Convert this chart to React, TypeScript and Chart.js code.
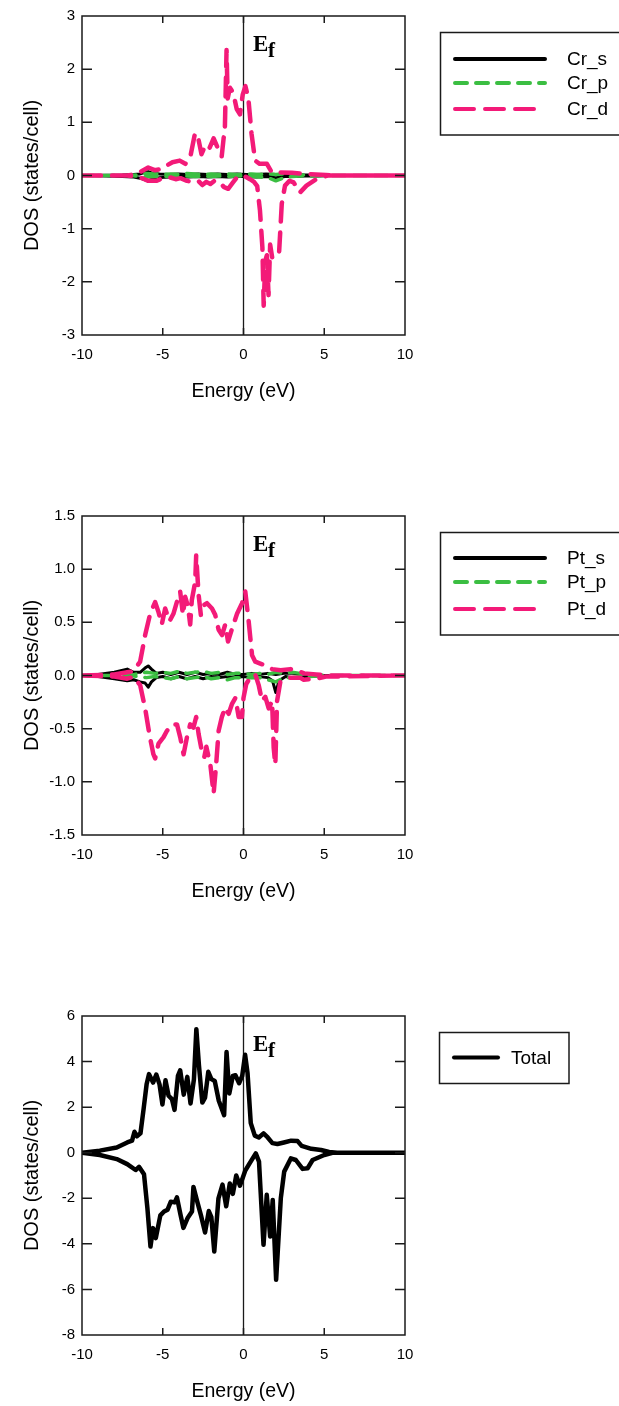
import React, { useEffect, useRef } from "react";
import { Chart, registerables } from "chart.js";

Chart.register(...registerables);
Chart.defaults.font.family = '"Liberation Sans", Arial, sans-serif';
Chart.defaults.color = "#000";

const W = 619;
const H = 420;
const PLOT_LEFT = 82;
const PLOT_RIGHT = 405;
const PLOT_TOP = 15;
const PLOT_BOTTOM = 335;

const PINK = "#F31A78";
const GREEN = "#3BBE42";
const BLACK = "#000000";

// ---- axis ticks ----
const energyTicks = [-10, -5, 0, 5, 10];
const crTicks = [-3, -2, -1, 0, 1, 2, 3];
const ptTicks = [-1.5, -1, -0.5, 0, 0.5, 1, 1.5];
const totTicks = [-8, -6, -4, -2, 0, 2, 4, 6];

// ---- Panel 1: Cr ----
const crSUpE = [-10, -8.5, -7.5, -6.8, -6.4, -6.1, -5.9, -5.6, -5.2, -4.6, -4.0, -3.4, -2.8, -2.2, -1.6, -1.0, -0.4, 0.2, 0.8, 1.4, 2.0, 2.6, 3.2, 3.8, 4.6, 5.4, 10];
const crSUpV = [0, 0.005, 0.01, 0.02, 0.03, 0.06, 0.07, 0.04, 0.03, 0.02, 0.03, 0.02, 0.03, 0.02, 0.03, 0.02, 0.03, 0.02, 0.02, 0.03, 0.02, 0.02, 0.02, 0.01, 0.01, 0, 0];
const crSDnE = [-10, -8.5, -7.5, -6.8, -6.4, -6.1, -5.9, -5.6, -5.2, -4.6, -4.0, -3.4, -2.8, -2.2, -1.6, -1.0, -0.4, 0.2, 0.8, 1.4, 2.0, 2.6, 3.2, 3.8, 4.6, 5.4, 10];
const crSDnV = [0, -0.01, -0.02, -0.03, -0.05, -0.08, -0.1, -0.06, -0.04, -0.03, -0.02, -0.03, -0.02, -0.03, -0.02, -0.03, -0.02, -0.02, -0.03, -0.02, -0.04, -0.02, -0.02, -0.01, -0.01, 0, 0];

const crPUpE = [-10, -7, -6.4, -6.0, -5.5, -5.0, -4.5, -4.0, -3.5, -3.0, -2.5, -2.0, -1.5, -1.0, -0.5, 0, 0.5, 1.0, 1.5, 2.0, 2.5, 3.0, 3.5, 4.0, 5.0, 10];
const crPUpV = [0, 0, 0.02, 0.04, 0.03, 0.02, 0.03, 0.02, 0.04, 0.03, 0.02, 0.03, 0.02, 0.03, 0.02, 0.02, 0.03, 0.02, 0.03, 0.02, 0.03, 0.02, 0.01, 0.01, 0, 0];
const crPDnE = [-10, -7, -6.4, -6.0, -5.5, -5.0, -4.5, -4.0, -3.5, -3.0, -2.5, -2.0, -1.5, -1.0, -0.5, 0, 0.5, 1.0, 1.5, 2.0, 2.5, 3.0, 3.5, 4.0, 5.0, 10];
const crPDnV = [0, 0, -0.02, -0.03, -0.02, -0.02, -0.01, -0.02, -0.01, -0.02, -0.01, -0.02, -0.01, -0.02, -0.01, -0.01, -0.02, -0.03, -0.04, -0.1, -0.04, -0.02, -0.01, -0.01, 0, 0];

const crDUpE = [-10, -7.2, -6.6, -6.2, -5.9, -5.5, -5.1, -4.8, -4.4, -3.95, -3.6, -3.3, -3.0, -2.8, -2.6, -2.35, -2.1, -1.85, -1.6, -1.35, -1.15, -1.05, -0.98, -0.84, -0.63, -0.42, -0.22, -0.05, 0.12, 0.3, 0.5, 0.72, 1.0, 1.45, 1.75, 2.1, 3.0, 3.9, 5.1, 5.6, 10];
const crDUpV = [0, 0, 0.03, 0.1, 0.15, 0.1, 0.12, 0.18, 0.25, 0.28, 0.22, 0.34, 0.8, 0.7, 0.4, 0.58, 0.52, 0.7, 0.52, 0.36, 0.93, 2.36, 1.45, 1.65, 1.55, 1.25, 1.15, 1.52, 1.68, 1.45, 0.78, 0.28, 0.22, 0.22, 0.06, 0.06, 0.05, 0.03, 0.01, 0, 0];
const crDDnE = [-10, -7.2, -6.6, -6.2, -5.9, -5.4, -5.0, -4.6, -4.2, -3.9, -3.5, -3.2, -2.8, -2.55, -2.3, -2.05, -1.8, -1.5, -1.2, -0.95, -0.65, -0.4, 0, 0.4, 0.65, 0.85, 1.02, 1.17, 1.25, 1.35, 1.45, 1.55, 1.65, 1.78, 1.95, 2.2, 2.37, 2.57, 2.85, 3.1, 3.5, 3.9, 4.5, 5.2, 10];
const crDDnV = [0, 0, -0.02, -0.06, -0.1, -0.1, -0.05, -0.03, -0.07, -0.05, -0.1, -0.12, -0.1, -0.18, -0.12, -0.16, -0.1, -0.12, -0.22, -0.25, -0.13, -0.03, 0, -0.07, -0.12, -0.2, -0.66, -1.35, -2.45, -1.6, -1.5, -2.25, -1.3, -1.55, -1.5, -1.47, -0.53, -0.19, -0.1, -0.13, -0.32, -0.19, -0.07, 0, 0];

// ---- Panel 2: Pt ----
const ptSUpE = [-10, -9, -8, -7.2, -6.8, -6.4, -6.1, -5.9, -5.7, -5.4, -5.0, -4.5, -4.0, -3.5, -3.0, -2.5, -2.0, -1.5, -1.0, -0.5, 0, 0.5, 1.0, 1.5, 2.0, 2.5, 3.0, 4.0, 5.0, 10];
const ptSUpV = [0, 0.01, 0.03, 0.06, 0.03, 0.03, 0.07, 0.09, 0.06, 0.02, 0.03, 0.01, 0.03, 0.01, 0.03, 0.01, 0.02, 0.01, 0.03, 0.01, 0.01, 0.02, 0.01, 0.02, 0.01, 0.02, 0.02, 0.01, 0, 0];
const ptSDnE = [-10, -9, -8, -7.2, -6.8, -6.4, -6.1, -5.9, -5.7, -5.4, -5.0, -4.5, -4.0, -3.5, -3.0, -2.5, -2.0, -1.5, -1.0, -0.5, 0, 0.5, 1.0, 1.5, 1.8, 2.0, 2.2, 2.6, 3.0, 4.0, 5.0, 10];
const ptSDnV = [0, -0.01, -0.03, -0.05, -0.04, -0.06, -0.07, -0.11, -0.06, -0.02, -0.01, -0.03, -0.01, -0.03, -0.01, -0.03, -0.01, -0.02, -0.01, -0.02, -0.01, -0.02, -0.01, -0.02, -0.05, -0.16, -0.05, -0.01, -0.02, -0.01, 0, 0];

const ptPUpE = [-10, -7, -6.5, -6.0, -5.5, -5.0, -4.5, -4.0, -3.5, -3.0, -2.5, -2.0, -1.5, -1.0, -0.5, 0, 0.5, 1.0, 1.5, 2.0, 2.5, 3.0, 3.5, 4.0, 5.0, 10];
const ptPUpV = [0, 0, 0.02, 0.03, 0.02, 0.03, 0.02, 0.04, 0.02, 0.03, 0.04, 0.02, 0.03, 0.01, 0.02, 0.02, 0.01, 0.02, 0.01, 0.03, 0.02, 0.03, 0.02, 0.01, 0, 0];
const ptPDnE = [-10, -7, -6.5, -6.0, -5.5, -5.0, -4.5, -4.0, -3.5, -3.0, -2.5, -2.0, -1.5, -1.0, -0.5, 0, 0.5, 1.0, 1.5, 2.0, 2.5, 3.0, 3.5, 4.0, 5.0, 10];
const ptPDnV = [0, 0, -0.01, -0.02, -0.01, -0.02, -0.03, -0.01, -0.03, -0.02, -0.01, -0.03, -0.02, -0.04, -0.02, -0.02, -0.02, -0.02, -0.04, -0.06, -0.02, -0.02, -0.01, -0.01, 0, 0];

const ptDUpE = [-10, -8, -7.2, -6.82, -6.4, -6.09, -5.78, -5.47, -5.27, -5.06, -4.85, -4.58, -4.34, -4.09, -3.92, -3.75, -3.61, -3.44, -3.3, -3.2, -2.99, -2.93, -2.78, -2.64, -2.47, -2.26, -1.95, -1.75, -1.54, -1.33, -1.13, -0.96, -0.71, -0.4, -0.09, 0.11, 0.32, 0.53, 0.73, 1.25, 1.77, 2.3, 2.9, 3.45, 3.75, 4.5, 5.2, 10];
const ptDUpV = [0, 0.01, 0.03, 0.04, 0.13, 0.38, 0.58, 0.69, 0.6, 0.48, 0.63, 0.51, 0.58, 0.71, 0.79, 0.57, 0.74, 0.65, 0.48, 0.71, 0.88, 1.13, 0.76, 0.57, 0.66, 0.68, 0.63, 0.57, 0.43, 0.38, 0.48, 0.32, 0.44, 0.58, 0.68, 0.79, 0.51, 0.19, 0.13, 0.1, 0.06, 0.05, 0.06, 0.04, 0.02, 0.01, 0, 0];
const ptDDnE = [-10, -8, -7.2, -6.82, -6.4, -6.09, -5.82, -5.7, -5.58, -5.47, -5.26, -4.95, -4.74, -4.43, -4.12, -3.92, -3.71, -3.5, -3.3, -3.1, -2.93, -2.78, -2.58, -2.43, -2.3, -2.16, -2.06, -1.85, -1.69, -1.54, -1.34, -1.13, -0.92, -0.72, -0.5, -0.3, -0.1, 0, 0.17, 0.41, 0.73, 0.94, 1.15, 1.35, 1.56, 1.77, 1.87, 1.97, 2.08, 2.28, 2.9, 3.5, 3.73, 4.5, 5.1, 10];
const ptDDnV = [0, -0.01, -0.03, -0.01, -0.09, -0.31, -0.56, -0.65, -0.74, -0.78, -0.64, -0.58, -0.52, -0.46, -0.46, -0.58, -0.74, -0.58, -0.46, -0.49, -0.39, -0.55, -0.71, -0.77, -0.67, -0.77, -0.83, -1.11, -0.83, -0.52, -0.39, -0.3, -0.36, -0.27, -0.21, -0.39, -0.39, -0.21, -0.08, -0.02, 0.01, -0.09, -0.24, -0.2, -0.31, -0.24, -0.68, -0.84, -0.24, -0.06, -0.02, -0.02, -0.04, -0.03, -0.01, 0];

// ---- Panel 3: Total ----
const totUpE = [-10, -8.9, -7.85, -7.2, -6.9, -6.75, -6.6, -6.38, -6.18, -6.0, -5.85, -5.6, -5.4, -5.2, -5.02, -4.83, -4.64, -4.43, -4.27, -4.06, -3.92, -3.7, -3.48, -3.28, -3.07, -2.92, -2.76, -2.55, -2.38, -2.18, -1.99, -1.78, -1.53, -1.2, -1.05, -0.88, -0.66, -0.5, -0.27, -0.08, 0.1, 0.25, 0.45, 0.7, 0.95, 1.24, 1.5, 1.79, 2.1, 2.5, 2.95, 3.35, 3.6, 4.2, 4.8, 5.3, 5.8, 10];
const totUpV = [0, 0.09, 0.23, 0.45, 0.53, 0.92, 0.72, 0.85, 1.95, 3.0, 3.45, 3.08, 3.43, 3.0, 2.12, 3.18, 2.5, 2.35, 1.88, 3.37, 3.62, 2.55, 3.33, 2.16, 3.22, 5.42, 3.84, 2.2, 2.42, 3.55, 3.23, 3.15, 2.28, 1.65, 4.42, 2.6, 3.37, 3.4, 3.05, 3.37, 4.3, 3.5, 1.3, 0.75, 0.67, 0.85, 0.67, 0.42, 0.38, 0.45, 0.53, 0.51, 0.3, 0.17, 0.12, 0.03, 0, 0];
const totDnE = [-10, -8.9, -7.85, -7.2, -6.68, -6.47, -6.16, -5.95, -5.76, -5.6, -5.43, -5.15, -4.92, -4.7, -4.5, -4.26, -4.12, -3.91, -3.72, -3.45, -3.19, -3.1, -2.88, -2.63, -2.38, -2.15, -1.99, -1.81, -1.55, -1.3, -1.07, -0.85, -0.66, -0.45, -0.22, 0.1, 0.35, 0.76, 0.96, 1.24, 1.44, 1.65, 1.81, 2.02, 2.31, 2.52, 2.93, 3.24, 3.66, 3.97, 4.28, 5.0, 5.5, 10];
const totDnV = [0, -0.1, -0.28, -0.5, -0.76, -0.62, -0.95, -2.44, -4.12, -3.31, -3.75, -2.75, -2.58, -2.5, -2.15, -2.18, -1.96, -2.69, -3.3, -2.85, -2.58, -1.5, -2.1, -2.76, -3.5, -2.56, -2.83, -4.34, -2.0, -1.4, -2.35, -1.35, -1.81, -1.0, -1.45, -0.8, -0.5, -0.03, -0.39, -4.04, -1.85, -3.68, -2.07, -5.58, -2.0, -0.83, -0.25, -0.32, -0.71, -0.68, -0.32, -0.1, 0, 0];

type Curve = {
  label: string;
  color: string;
  dash: number[];
  width: number;
  order: number;
  upE: number[];
  upV: number[];
  dnE: number[];
  dnV: number[];
};

type Panel = {
  top: number;
  yMin: number;
  yMax: number;
  yTicks: number[];
  decimals: number;
  curves: Curve[];
  legend: { x: number; y: number; w: number; h: number; rows: number[]; x1: number; x2: number; textX: number };
};

const panels: Panel[] = [
  {
    top: 0,
    yMin: -3,
    yMax: 3,
    yTicks: crTicks,
    decimals: 0,
    curves: [
      { label: "Cr_s", color: BLACK, dash: [], width: 3, order: 3, upE: crSUpE, upV: crSUpV, dnE: crSDnE, dnV: crSDnV },
      { label: "Cr_p", color: GREEN, dash: [12, 9], width: 3.5, order: 2, upE: crPUpE, upV: crPUpV, dnE: crPDnE, dnV: crPDnV },
      { label: "Cr_d", color: PINK, dash: [19, 11], width: 4.5, order: 1, upE: crDUpE, upV: crDUpV, dnE: crDDnE, dnV: crDDnV },
    ],
    legend: { x: 440.5, y: 32.5, w: 200, h: 102.5, rows: [59, 83, 109], x1: 455, x2: 545, textX: 567 },
  },
  {
    top: 500,
    yMin: -1.5,
    yMax: 1.5,
    yTicks: ptTicks,
    decimals: 1,
    curves: [
      { label: "Pt_s", color: BLACK, dash: [], width: 3, order: 3, upE: ptSUpE, upV: ptSUpV, dnE: ptSDnE, dnV: ptSDnV },
      { label: "Pt_p", color: GREEN, dash: [12, 9], width: 3.5, order: 2, upE: ptPUpE, upV: ptPUpV, dnE: ptPDnE, dnV: ptPDnV },
      { label: "Pt_d", color: PINK, dash: [19, 11], width: 4.5, order: 1, upE: ptDUpE, upV: ptDUpV, dnE: ptDDnE, dnV: ptDDnV },
    ],
    legend: { x: 440.5, y: 32.5, w: 200, h: 102.5, rows: [58, 82, 109], x1: 455, x2: 545, textX: 567 },
  },
  {
    top: 1000,
    yMin: -8,
    yMax: 6,
    yTicks: totTicks,
    decimals: 0,
    curves: [
      { label: "Total", color: BLACK, dash: [], width: 4.5, order: 1, upE: totUpE, upV: totUpV, dnE: totDnE, dnV: totDnV },
    ],
    legend: { x: 439.5, y: 32.5, w: 129.5, h: 51, rows: [57.5], x1: 454, x2: 498, textX: 511 },
  },
];

function points(upE: number[], upV: number[], dnE: number[], dnV: number[]) {
  return [
    ...upE.map((x, i) => ({ x, y: upV[i] })),
    { x: 10, y: null },
    ...dnE.map((x, i) => ({ x, y: dnV[i] })),
  ];
}

function makeDecor(p: Panel) {
  return {
    id: "decor",
    beforeDatasetsDraw(chart: any) {
      const { ctx, chartArea: a, scales } = chart;
      const x0 = scales.x.getPixelForValue(0);
      ctx.save();
      ctx.strokeStyle = "#1a1a1a";
      ctx.lineWidth = 1.3;
      ctx.beginPath();
      ctx.moveTo(x0, a.top);
      ctx.lineTo(x0, a.bottom);
      ctx.stroke();
      ctx.restore();
    },
    afterDatasetsDraw(chart: any) {
      const { ctx, chartArea: a, scales } = chart;
      ctx.save();
      // frame
      ctx.strokeStyle = "#1a1a1a";
      ctx.lineWidth = 1.5;
      ctx.setLineDash([]);
      ctx.strokeRect(a.left, a.top, a.right - a.left, a.bottom - a.top);
      // inward ticks
      ctx.beginPath();
      energyTicks.forEach((v) => {
        if (v <= -10 || v >= 10) return;
        const px = scales.x.getPixelForValue(v);
        ctx.moveTo(px, a.bottom);
        ctx.lineTo(px, a.bottom - 7);
        ctx.moveTo(px, a.top);
        ctx.lineTo(px, a.top + 7);
      });
      p.yTicks.forEach((v) => {
        if (v <= p.yMin || v >= p.yMax) return;
        const py = scales.y.getPixelForValue(v);
        ctx.moveTo(a.left, py);
        ctx.lineTo(a.left + 10, py);
        ctx.moveTo(a.right, py);
        ctx.lineTo(a.right - 10, py);
      });
      ctx.stroke();
      // Ef label
      ctx.fillStyle = "#000";
      ctx.textBaseline = "alphabetic";
      ctx.textAlign = "left";
      ctx.font = 'bold 23px "Liberation Serif", serif';
      ctx.fillText("E", 253, 51);
      ctx.font = 'bold 21px "Liberation Serif", serif';
      ctx.fillText("f", 268, 57);
      // legend
      const L = p.legend;
      ctx.lineWidth = 1.5;
      ctx.strokeStyle = "#1a1a1a";
      ctx.strokeRect(L.x, L.y, L.w, L.h);
      chart.data.datasets.forEach((ds: any, i: number) => {
        const y = L.rows[i];
        ctx.save();
        ctx.strokeStyle = ds.borderColor;
        ctx.lineWidth = 4;
        ctx.lineCap = "round";
        ctx.setLineDash(ds.borderDash || []);
        ctx.beginPath();
        ctx.moveTo(L.x1, y);
        ctx.lineTo(L.x2, y);
        ctx.stroke();
        ctx.restore();
        ctx.fillStyle = "#000";
        ctx.font = '19px "Liberation Sans", Arial, sans-serif';
        ctx.textBaseline = "middle";
        ctx.fillText(ds.label, L.textX, y + 1);
      });
      ctx.restore();
    },
  };
}

function buildConfig(p: Panel): any {
  return {
    type: "line",
    data: {
      datasets: p.curves.map((c) => ({
        label: c.label,
        data: points(c.upE, c.upV, c.dnE, c.dnV),
        borderColor: c.color,
        backgroundColor: c.color,
        borderWidth: c.width,
        borderDash: c.dash,
        borderCapStyle: "round",
        borderJoinStyle: "round",
        order: c.order,
        pointRadius: 0,
        tension: 0,
        fill: false,
        spanGaps: false,
      })),
    },
    options: {
      animation: false,
      responsive: false,
      maintainAspectRatio: false,
      devicePixelRatio: 1,
      events: [],
      layout: { padding: { left: 0, top: PLOT_TOP, right: W - PLOT_RIGHT, bottom: 0 } },
      plugins: { legend: { display: false }, tooltip: { enabled: false } },
      scales: {
        x: {
          type: "linear",
          position: "bottom",
          min: -10,
          max: 10,
          afterBuildTicks: (s: any) => {
            s.ticks = energyTicks.map((v) => ({ value: v }));
          },
          afterFit: (s: any) => {
            s.height = H - PLOT_BOTTOM;
          },
          grid: { display: false, drawTicks: false },
          border: { display: false },
          ticks: {
            color: "#000",
            font: { size: 15 },
            padding: 11,
            maxRotation: 0,
            autoSkip: false,
            callback: (v: any) => String(v),
          },
          title: {
            display: true,
            text: "Energy (eV)",
            color: "#000",
            font: { size: 19.5 },
            padding: { top: 0, bottom: 17 },
          },
        },
        y: {
          type: "linear",
          position: "left",
          min: p.yMin,
          max: p.yMax,
          afterBuildTicks: (s: any) => {
            s.ticks = p.yTicks.map((v) => ({ value: v }));
          },
          afterFit: (s: any) => {
            s.width = PLOT_LEFT;
          },
          grid: { display: false, drawTicks: false },
          border: { display: false },
          ticks: {
            color: "#000",
            font: { size: 15 },
            padding: 7,
            autoSkip: false,
            callback: (v: any) => Number(v).toFixed(p.decimals),
          },
          title: {
            display: true,
            text: "DOS (states/cell)",
            color: "#000",
            font: { size: 20 },
            padding: { top: 20, bottom: 0 },
          },
        },
      },
    },
    plugins: [makeDecor(p)],
  };
}

export default function App() {
  const refs = useRef<(HTMLCanvasElement | null)[]>([]);

  useEffect(() => {
    const charts = panels.map((p, i) => new Chart(refs.current[i] as HTMLCanvasElement, buildConfig(p)));
    return () => charts.forEach((c) => c.destroy());
  }, []);

  return (
    <div
      style={{
        position: "absolute",
        left: 0,
        top: 0,
        width: W,
        height: 1406,
        overflow: "hidden",
        background: "#fff",
      }}
    >
      {panels.map((p, i) => (
        <canvas
          key={i}
          ref={(el) => {
            refs.current[i] = el;
          }}
          width={W}
          height={H}
          style={{ position: "absolute", left: 0, top: p.top, width: W, height: H, display: "block" }}
        />
      ))}
    </div>
  );
}
